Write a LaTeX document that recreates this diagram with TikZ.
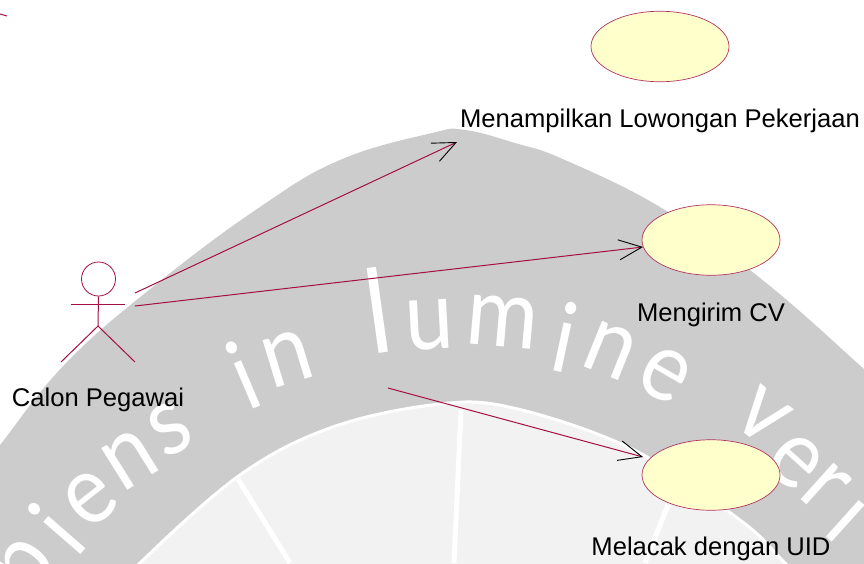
\documentclass[tikz,border=0pt]{standalone}
\usepackage{fontspec}
\setmainfont{Liberation Sans}
\newfontfamily\wmfont{Lato}
\usetikzlibrary{shapes.geometric,arrows.meta}
\definecolor{umlline}{RGB}{165,15,70}
\definecolor{ucfill}{RGB}{255,255,204}
\definecolor{band}{RGB}{204,204,204}
\definecolor{discfill}{RGB}{242,242,242}
\tikzset{
  usecase/.style={ellipse,draw=umlline!85!white,fill=ucfill,line width=0.7pt,minimum width=138pt,minimum height=70.5pt,inner sep=0pt},
  umllabel/.style={anchor=base,inner sep=0pt,text=black,font=\fontsize{25.6}{30}\selectfont},
  assoc/.style={draw=umlline,line width=1pt,-{Straight Barb[black,length=23pt,width=20pt,line width=0.9pt]}},
  stick/.style={draw=umlline,line width=1pt},
  wm/.style={text=white,inner sep=0pt,font=\fontsize{97}{110}\wmfont\selectfont,xscale=0.9},
  spoke/.style={draw=white,line width=5pt}
}
\begin{document}
\begin{tikzpicture}[x=1pt,y=-1pt]
\useasboundingbox (0,0) rectangle (864,563);
\begin{scope}
\clip (0,0) rectangle (864,563);
% watermark
\fill[band] plot[smooth,tension=0.7] coordinates {(-20,470) (0,445) (67,362) (159,282) (260,207) (340,160) (432,133) (465,130) (515,143) (565,160) (665,210) (765,282) (864,369) (890,392)} -- (890,600) -- (-20,600) -- cycle;
\node[rotate=52,wm] (wa) at (32,572) {p};
\node[rotate=49,wm] (wb) at (57,528) {i};
\node[rotate=38,wm] (wc) at (91,499) {e};
\node[rotate=32,wm] (wd) at (130,459) {n};
\node[rotate=27,wm] (we) at (170,429) {s};
\node[rotate=23,wm] (wf) at (243,375) {i};
\node[rotate=17,wm] (wg) at (287,359) {n};
\node[rotate=8,wm,scale=1.2] (wh) at (378,310) {l};
\node[rotate=3,wm] (wi) at (430,325) {u};
\node[rotate=-5,wm] (wj) at (502,322) {m};
\node[rotate=-12,wm] (wk) at (565,337) {i};
\node[rotate=-22,wm] (wl) at (610,350) {n};
\node[rotate=-30,wm] (wm) at (665,375) {e};
\node[rotate=-38,wm] (wn) at (762,416) {v};
\node[rotate=-42,wm] (wo) at (795,462) {e};
\node[rotate=-42,wm] (wp) at (825,488) {r};
\node[rotate=-42,wm] (wq) at (853,513) {i};
\filldraw[fill=discfill,draw=white,line width=3pt] plot[smooth,tension=0.6] coordinates {(100,610) (140,563) (240,475) (330,428) (432,405) (509,407) (632,449) (740,520) (785,563) (840,620)} -- cycle;
\draw[spoke] (238,479) -- (290,563);
\draw[spoke] (461,410) -- (454,563);
\draw[spoke] (668,505) -- (645,563);
\end{scope}
% stray mark
\coordinate (ma) at (0,14);
\coordinate (mb) at (7,16);
\draw[stick] (ma) -- (mb);
% actor
\node[circle,draw=umlline,line width=0.8pt,minimum size=34pt,inner sep=0pt] (head) at (98.5,279) {};
\coordinate (hip) at (98,326);
\coordinate (armL) at (71,304);
\coordinate (armR) at (125,304);
\coordinate (legL) at (61,362);
\coordinate (legR) at (135,362);
\draw[stick] (head.south) -- (hip);
\draw[stick] (armL) -- (armR);
\draw[stick] (legL) -- (hip) -- (legR);
\node[umllabel] (lactor) at (98,406) {Calon Pegawai};
% use cases
\node[usecase] (uca) at (660,46.5) {};
\node[usecase] (ucb) at (711,240) {};
\node[usecase] (ucc) at (711,475) {};
\node[umllabel] (la) at (660,127) {Menampilkan Lowongan Pekerjaan};
\node[umllabel] (lb) at (711,321) {Mengirim CV};
\node[umllabel] (lc) at (711,555) {Melacak dengan UID};
% connectors
\coordinate (sa) at (135,293);
\coordinate (ta) at (457,142);
\coordinate (sb) at (135,306);
\coordinate (tb) at (643,247);
\coordinate (sc) at (388,388);
\coordinate (tc) at (643,457);
\draw[assoc] (sa) -- (ta);
\draw[assoc] (sb) -- (tb);
\draw[assoc] (sc) -- (tc);
\end{tikzpicture}
\end{document}
